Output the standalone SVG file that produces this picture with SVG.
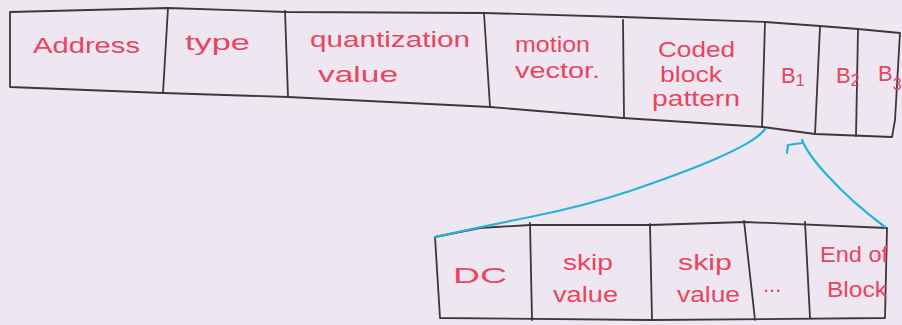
<svg xmlns="http://www.w3.org/2000/svg" width="902" height="325" viewBox="0 0 902 325">
<style>
.ink{fill:none;stroke:#3d3738;stroke-width:1.8;stroke-linejoin:round;stroke-linecap:round}
.lbl{fill:#e8455f;font-family:"Liberation Sans","DejaVu Sans",sans-serif;font-size:22px}
.blue{fill:none;stroke:#27b3d9;stroke-width:2.2;stroke-linecap:round;stroke-linejoin:round}
</style>
<rect width="902" height="325" fill="#eee7f1"/>
<g id="macroblock">
<path class="ink" d="M10,12 L168,8 L287,12 L484,13 L623,17 L765,22 L820,26 L858,29 L900,33 L895,120 L892,137 L815,134 L763,127 L623,118 L490,107 L288,97 L163,93 L10,87 Z"/>
<path class="ink" d="M168,8 L163,93 M285,11 L288,97 M484,13 L490,107 M623,20 L624,117 M765,22 L762,127 M820,27 L815,134 M858,30 L856,136"/>
</g>
<g id="f-address"><text class="lbl" x="33" y="53" font-size="24" textLength="107" lengthAdjust="spacingAndGlyphs">Address</text></g>
<g id="f-type"><text class="lbl" x="185" y="50" font-size="24" textLength="65" lengthAdjust="spacingAndGlyphs">type</text></g>
<g id="f-quant"><text class="lbl" x="310" y="47" font-size="20" textLength="160" lengthAdjust="spacingAndGlyphs">quantization</text><text class="lbl" x="318" y="82" textLength="80" lengthAdjust="spacingAndGlyphs">value</text></g>
<g id="f-motion"><text class="lbl" x="515" y="52" textLength="75" lengthAdjust="spacingAndGlyphs">motion</text><text class="lbl" x="515" y="78" textLength="85" lengthAdjust="spacingAndGlyphs">vector.</text></g>
<g id="f-cbp"><text class="lbl" x="658" y="57" textLength="77" lengthAdjust="spacingAndGlyphs">Coded</text><text class="lbl" x="660" y="82" textLength="62" lengthAdjust="spacingAndGlyphs">block</text><text class="lbl" x="652" y="106" textLength="88" lengthAdjust="spacingAndGlyphs">pattern</text></g>
<g id="f-b1"><text class="lbl" x="781" y="83" font-size="25">B<tspan font-size="16" dy="3">1</tspan></text></g>
<g id="f-b2"><text class="lbl" x="836" y="83" font-size="25">B<tspan font-size="16" dy="3">2</tspan></text></g>
<g id="f-b3"><text class="lbl" x="878" y="81" font-size="25">B<tspan font-size="16" dy="9">3</tspan></text></g>
<g id="block">
<path class="ink" d="M435,237 L480,228 L530,225 L650,225 L745,222 L887,228 L885,318 L652,320 L440,318 Z"/>
<path class="ink" d="M530,223 L532,320 M650,224 L652,320 M744,221 L755,320 M805,222 L810,318"/>
</g>
<g id="f-dc"><text class="lbl" x="453" y="283" font-size="32" textLength="54" lengthAdjust="spacingAndGlyphs">DC</text></g>
<g id="f-skip1"><text class="lbl" x="563" y="270" textLength="50" lengthAdjust="spacingAndGlyphs">skip</text><text class="lbl" x="553" y="302" textLength="65" lengthAdjust="spacingAndGlyphs">value</text></g>
<g id="f-skip2"><text class="lbl" x="678" y="270" textLength="54" lengthAdjust="spacingAndGlyphs">skip</text><text class="lbl" x="677" y="302" textLength="63" lengthAdjust="spacingAndGlyphs">value</text></g>
<g id="f-dots"><text class="lbl" x="763" y="292" font-size="16">...</text></g>
<g id="f-eob"><text class="lbl" x="820" y="262" font-size="18" textLength="68" lengthAdjust="spacingAndGlyphs">End of</text><text class="lbl" x="827" y="297" font-size="20" textLength="60" lengthAdjust="spacingAndGlyphs">Block</text></g>
<g id="connectors">
<path class="blue" d="M765,129 C758,138 745,146 713,160 C690,170 665,179 630,191 C597,202 560,211 530,217 C500,223 470,229 435,237"/>
<path class="blue" d="M787,153 L788,145 L802,143 M802,140 C806,150 815,162 827,175 C845,195 865,212 885,227"/>
</g>
</svg>
